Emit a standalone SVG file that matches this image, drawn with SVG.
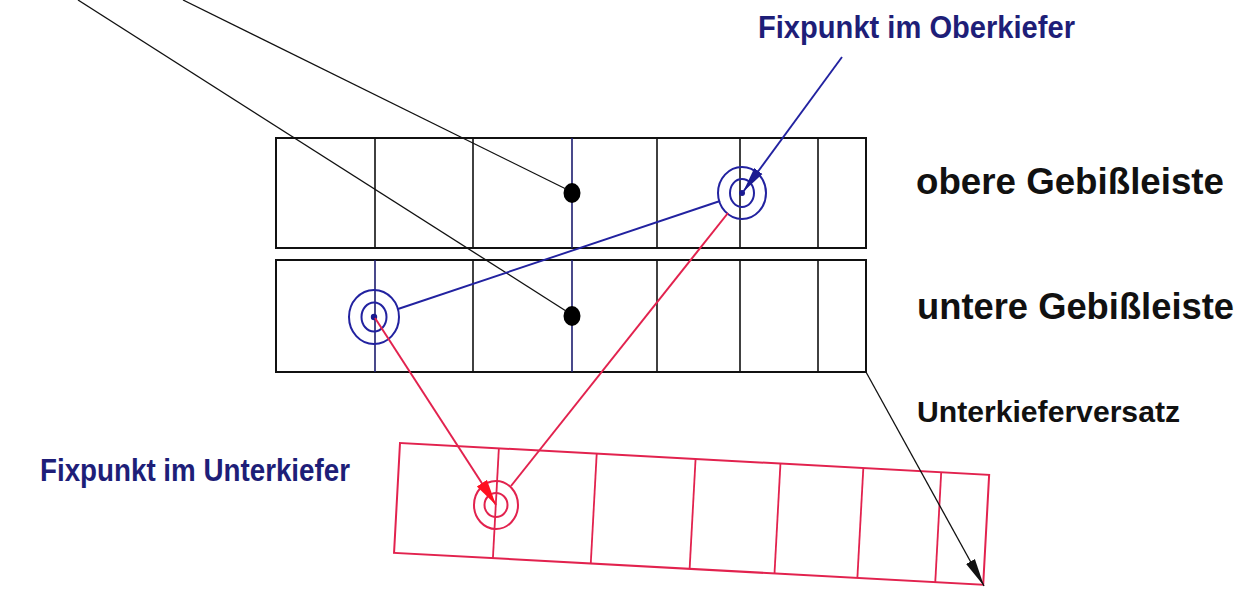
<svg xmlns="http://www.w3.org/2000/svg" width="1258" height="589" viewBox="0 0 1258 589">
  <defs>
    <style>
      .bar { fill: none; stroke: #111; stroke-width: 2; }
      .div { stroke: #111; stroke-width: 1.6; }
      .divb { stroke: #1c1c6e; stroke-width: 1.6; }
      .rbar { fill: none; stroke: #e2224e; stroke-width: 2; }
      .rdiv { stroke: #e2224e; stroke-width: 1.8; }
      .ring { fill: none; stroke: #2222a0; stroke-width: 2; }
      .rring { fill: none; stroke: #e2224e; stroke-width: 2; }
      .lbl { font-family: "Liberation Sans", Arial, sans-serif; font-weight: bold; }
      .blue { fill: #1e1e78; }
      .dark { fill: #111; }
      .pb { stroke: #111; stroke-width: 1.3; fill: none; }
      .pblue { stroke: #2222a0; stroke-width: 1.9; fill: none; }
      .pred { stroke: #e2224e; stroke-width: 2; fill: none; }
    </style>
    <marker id="ahBlue" markerUnits="userSpaceOnUse" markerWidth="30" markerHeight="14" refX="26" refY="6" orient="auto">
      <path d="M0,1 L26,6 L0,11 Z" fill="#1a1a90"/>
    </marker>
    <marker id="ahRed" markerUnits="userSpaceOnUse" markerWidth="30" markerHeight="16" refX="26" refY="7" orient="auto">
      <path d="M0,1 L26,7 L0,13 Z" fill="#ff1020"/>
    </marker>
    <marker id="ahBlack" markerUnits="userSpaceOnUse" markerWidth="32" markerHeight="14" refX="28" refY="6" orient="auto">
      <path d="M0,1 L28,6 L0,11 Z" fill="#111"/>
    </marker>
  </defs>
  <rect width="1258" height="589" fill="#fff"/>

  <g id="upper-bar">
    <rect class="bar" x="276" y="138" width="590" height="110"/>
    <line class="div" x1="375" y1="138" x2="375" y2="248"/>
    <line class="div" x1="473" y1="138" x2="473" y2="248"/>
    <line class="divb" x1="572" y1="138" x2="572" y2="248"/>
    <line class="div" x1="657" y1="138" x2="657" y2="248"/>
    <line class="div" x1="740" y1="138" x2="740" y2="248"/>
    <line class="div" x1="818" y1="138" x2="818" y2="248"/>
    <ellipse cx="572" cy="193" rx="8.5" ry="10" fill="#000"/>
  </g>

  <g id="lower-bar">
    <rect class="bar" x="276" y="260" width="590" height="112"/>
    <line class="divb" x1="375" y1="260" x2="375" y2="372"/>
    <line class="div" x1="473" y1="260" x2="473" y2="372"/>
    <line class="divb" x1="572" y1="260" x2="572" y2="372"/>
    <line class="div" x1="657" y1="260" x2="657" y2="372"/>
    <line class="div" x1="740" y1="260" x2="740" y2="372"/>
    <line class="div" x1="818" y1="260" x2="818" y2="372"/>
    <ellipse cx="572" cy="316" rx="8.5" ry="10" fill="#000"/>
  </g>

  <g id="offset-bar" transform="translate(400,443) rotate(3.1)">
    <rect class="rbar" x="0" y="0" width="590" height="110"/>
    <line class="rdiv" x1="99" y1="0" x2="99" y2="110"/>
    <line class="rdiv" x1="197" y1="0" x2="197" y2="110"/>
    <line class="rdiv" x1="296" y1="0" x2="296" y2="110"/>
    <line class="rdiv" x1="381" y1="0" x2="381" y2="110"/>
    <line class="rdiv" x1="464" y1="0" x2="464" y2="110"/>
    <line class="rdiv" x1="542" y1="0" x2="542" y2="110"/>
  </g>

  <g id="fix-upper">
    <ellipse class="ring" cx="742" cy="193" rx="24" ry="26"/>
    <ellipse class="ring" cx="742" cy="193" rx="12" ry="14"/>
    <circle cx="742" cy="193" r="3" fill="#1a1a90"/>
  </g>

  <g id="fix-lower">
    <ellipse class="ring" cx="374" cy="317" rx="25" ry="27"/>
    <ellipse class="ring" cx="374" cy="317" rx="12.5" ry="14.5"/>
    <circle cx="374" cy="317" r="3.2" fill="#1a1a90"/>
  </g>

  <g id="fix-offset">
    <ellipse class="rring" cx="496" cy="505" rx="22" ry="24"/>
    <ellipse class="rring" cx="496" cy="505" rx="11.5" ry="12"/>
  </g>

  <g id="connectors">
    <line class="pb" x1="78" y1="0" x2="566" y2="311"/>
    <line class="pb" x1="183" y1="0" x2="566" y2="189"/>
    <line class="pblue" x1="842" y1="57" x2="743" y2="192" marker-end="url(#ahBlue)"/>
    <line class="pblue" x1="720" y1="201" x2="398" y2="309"/>
    <line class="pred" x1="728" y1="213" x2="511" y2="486"/>
    <line class="pred" x1="375" y1="318" x2="496" y2="505" marker-end="url(#ahRed)"/>
    <line class="pb" x1="866" y1="372" x2="984" y2="586" marker-end="url(#ahBlack)"/>
  </g>

  <g id="labels">
    <text class="lbl blue" x="758" y="38" font-size="31" textLength="317" lengthAdjust="spacingAndGlyphs">Fixpunkt im Oberkiefer</text>
    <text class="lbl dark" x="916" y="194" font-size="36" textLength="308" lengthAdjust="spacingAndGlyphs">obere Gebißleiste</text>
    <text class="lbl dark" x="917" y="319" font-size="36" textLength="317" lengthAdjust="spacingAndGlyphs">untere Gebißleiste</text>
    <text class="lbl dark" x="917" y="422" font-size="30" textLength="263" lengthAdjust="spacingAndGlyphs">Unterkieferversatz</text>
    <text class="lbl blue" x="40" y="481" font-size="31" textLength="310" lengthAdjust="spacingAndGlyphs">Fixpunkt im Unterkiefer</text>
  </g>
</svg>
